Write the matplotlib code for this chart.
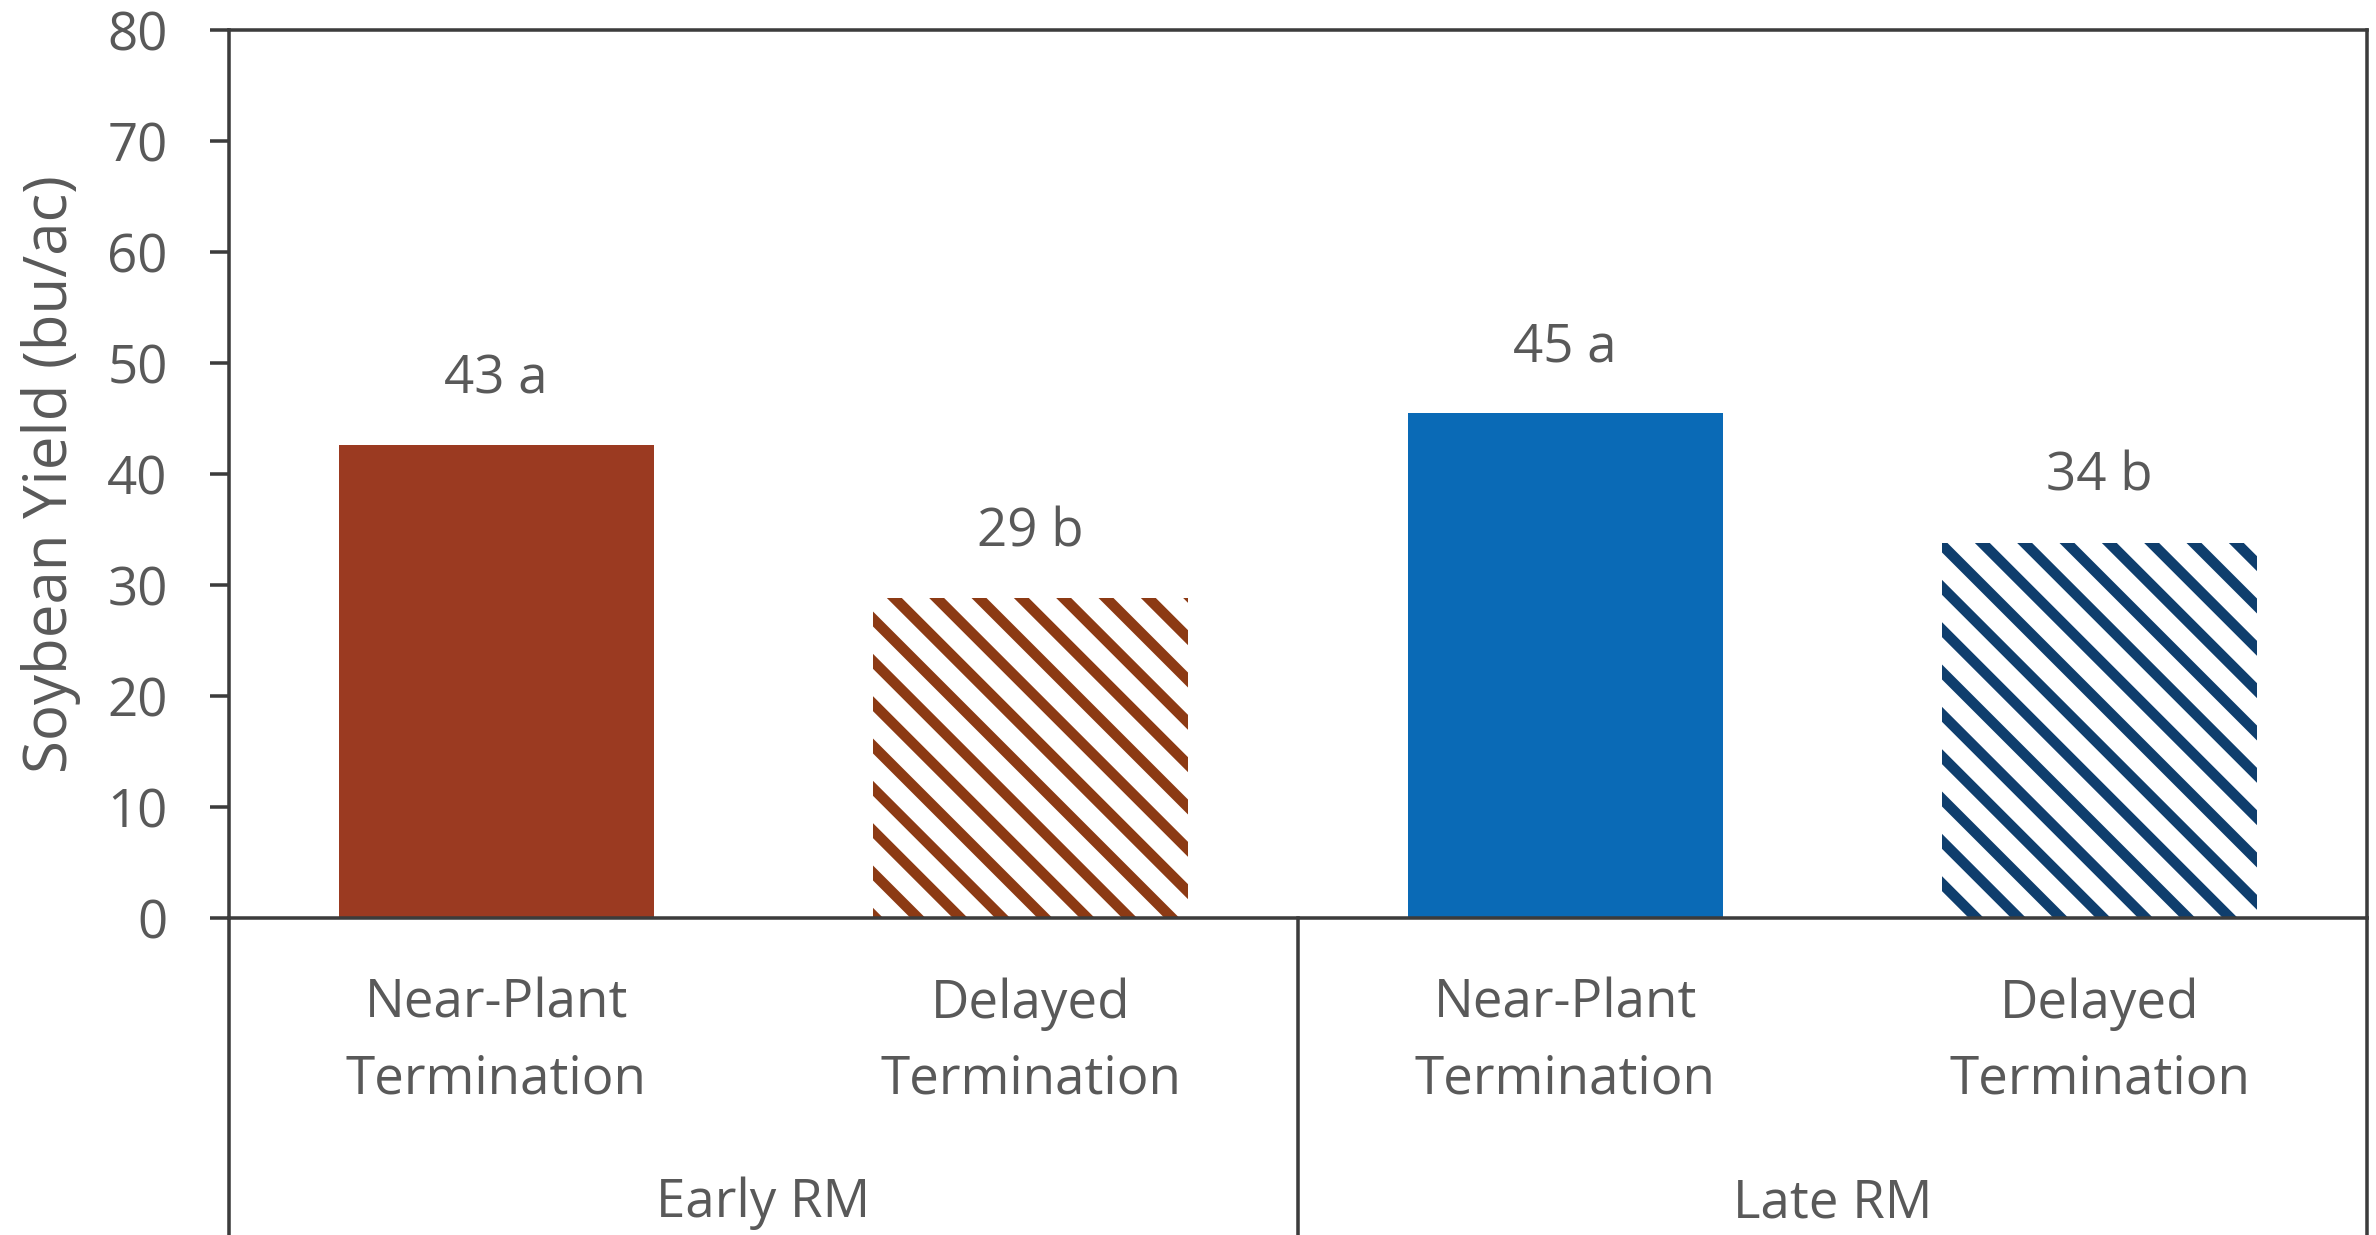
import matplotlib
matplotlib.use('Agg')
import matplotlib.pyplot as plt
import numpy as np

plt.rcParams['font.family'] = ['Open Sans', 'DejaVu Sans']

# ── data ─────────────────────────────────────────────
categories = ['Near-Plant\nTermination', 'Delayed\nTermination',
              'Near-Plant\nTermination', 'Delayed\nTermination']
groups = ['Early RM', 'Late RM']
yields = [42.6, 28.8, 45.5, 33.8]
letters = ['43 a', '29 b', '45 a', '34 b']

bar_fill  = ['#9B3A21', 'white', '#0A6AB6', 'white']
bar_hatch = [None, '\\\\', None, '\\\\']
bar_edge  = ['#9B3A21', '#8C3A14', '#0A6AB6', '#0F3E6D']

TXT = '#595959'
LINE = '#3C3C3C'
DPI = 254

plt.rcParams['hatch.linewidth'] = 3.0

fig = plt.figure(figsize=(2376 / DPI, 1235 / DPI), dpi=DPI)
W, H = 2376, 1235
x0, x1, ytop, y0 = 229, 2367, 30, 918
ax = fig.add_axes([x0 / W, (H - y0) / H, (x1 - x0) / W, (y0 - ytop) / H])

x = np.arange(len(yields)) + 0.5
bars = ax.bar(x, yields, 0.59, color=bar_fill, edgecolor=bar_edge, linewidth=0)
for b, h in zip(bars, bar_hatch):
    if h:
        b.set_hatch(h)

# value labels
for xi, v, lab in zip(x, yields, letters):
    ax.annotate(lab, (xi, v), xytext=(0, 14.7), textcoords='offset points',
                ha='center', va='baseline', fontsize=15, color=TXT)

ax.set_xlim(0, 4)
ax.set_ylim(0, 80)
ax.set_yticks(np.arange(0, 81, 10))
ax.set_xticks([])
ax.tick_params(axis='y', direction='out', length=5.4, width=1.0, color=LINE,
               labelsize=15, labelcolor=TXT, pad=12)
for s in ax.spines.values():
    s.set_color(LINE)
    s.set_linewidth(1.0)

ax.set_ylabel('Soybean Yield (bu/ac)', fontsize=17, color=TXT)
ax.yaxis.set_label_coords(-0.069, 0.5)

# category table below axis
ybot = -(H - y0) / (y0 - ytop)
for xv in [0, 2, 4]:
    ax.axvline(xv, ymin=ybot, ymax=0, color=LINE, lw=1.0, clip_on=False)

to_ax = lambda py: -(py - y0) / (y0 - ytop)
trans = ax.get_xaxis_transform()
for xi, lab in zip(x, categories):
    l1, l2 = lab.split('\n')
    ax.text(xi, to_ax(1018), l1, ha='center', va='baseline', fontsize=15,
            color=TXT, transform=trans)
    ax.text(xi, to_ax(1093), l2, ha='center', va='baseline', fontsize=15,
            color=TXT, transform=trans)
for gi, g in enumerate(groups):
    ax.text(1 + 2 * gi, to_ax(1217), g, ha='center', va='baseline', fontsize=15,
            color=TXT, transform=trans)

fig.savefig('out.png', dpi=DPI)
